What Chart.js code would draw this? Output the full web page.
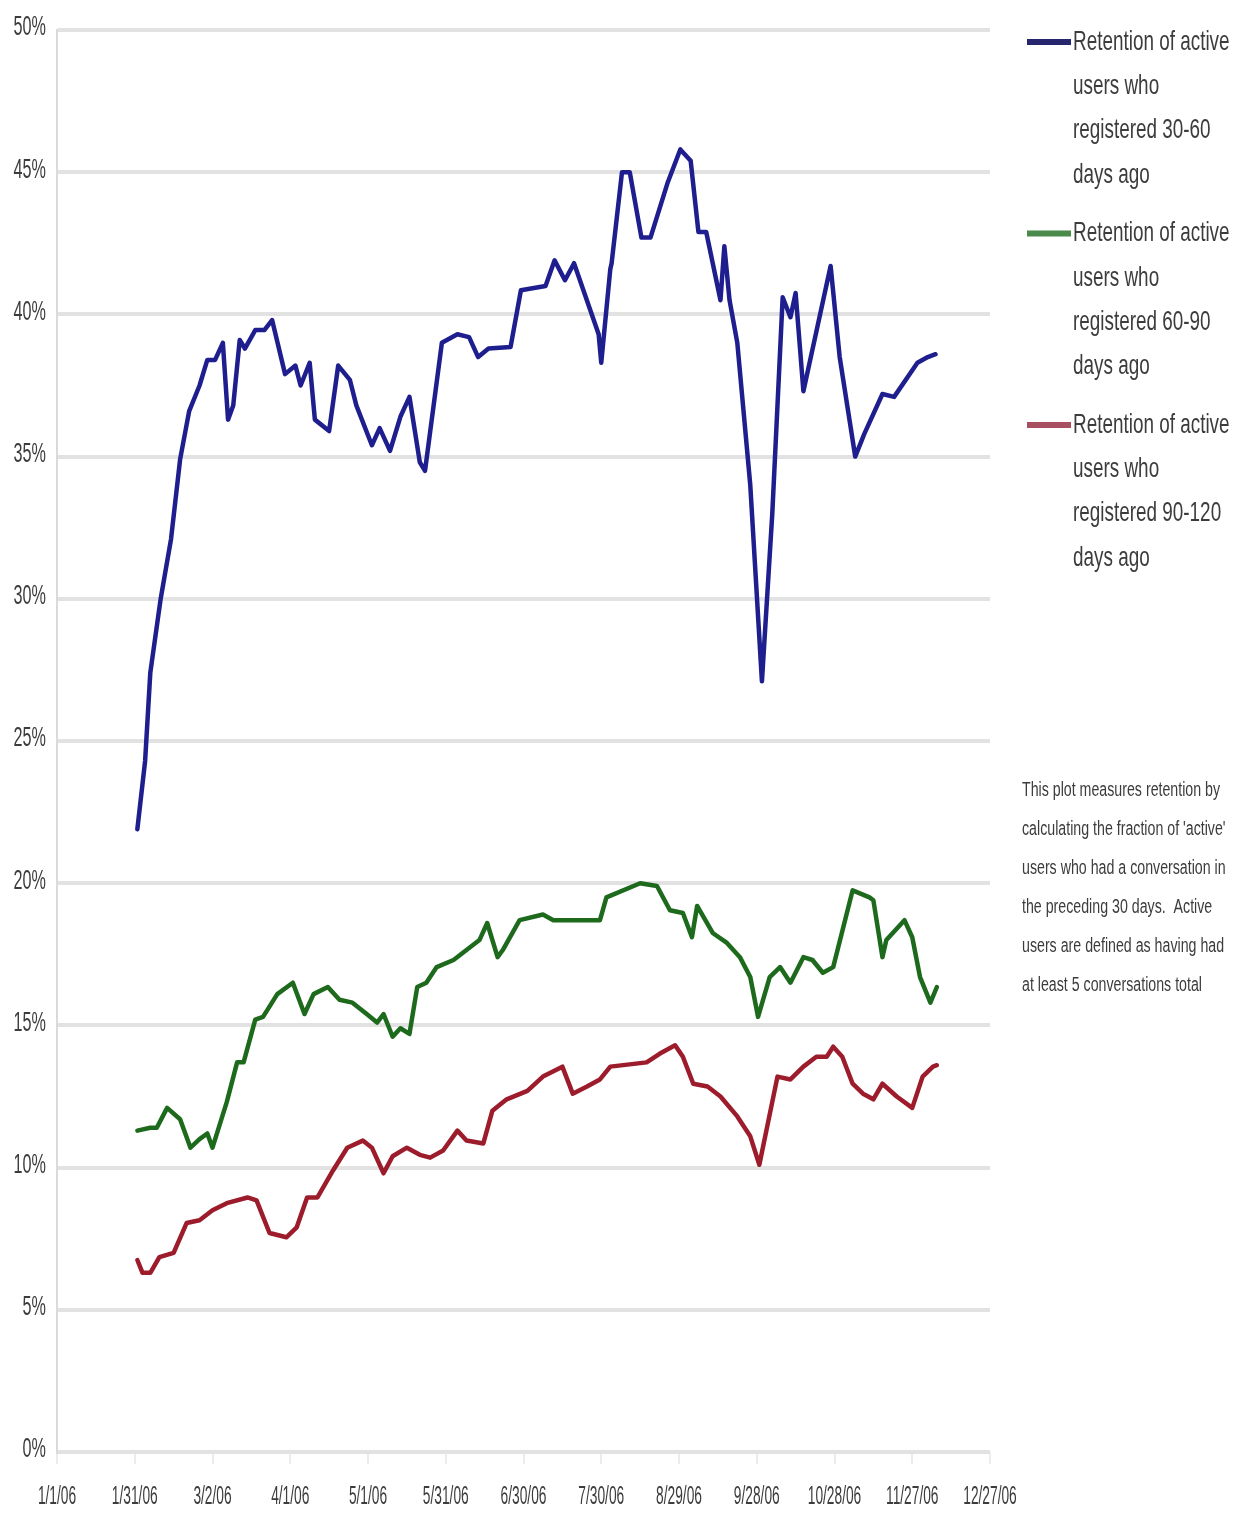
<!DOCTYPE html>
<html>
<head>
<meta charset="utf-8">
<script src="https://cdn.jsdelivr.net/npm/chart.js@4.4.1/dist/chart.umd.min.js"></script>
<style>
  html, body { margin: 0; padding: 0; background: #fff; }
  #wrap { position: relative; width: 1242px; height: 1513px; }
</style>
</head>
<body>
<div id="wrap"><canvas id="retentionChart"></canvas></div>
<script>
// x values are days since 1/1/06, ticks every 30 days
const tickLabels = ['1/1/06', '1/31/06', '3/2/06', '4/1/06', '5/1/06', '5/31/06', '6/30/06',
  '7/30/06', '8/29/06', '9/28/06', '10/28/06', '11/27/06', '12/27/06'];
const yTicks = [0, 5, 10, 15, 20, 25, 30, 35, 40, 45, 50];

const blueDays = [31, 34, 36, 40, 44, 47.5, 51, 55, 58, 61, 64, 66, 68, 70.5, 72.5, 76.5, 80, 83, 88, 92,
  94, 97.5, 99.5, 105, 108.5, 113, 115.5, 121.5, 124.5, 128.5, 132.5, 136, 140, 142, 148.5, 154.5, 159,
  162.5, 166.5, 175, 179, 188.5, 192, 196, 199.5, 209, 210, 213.5, 214, 218, 221, 225.5, 229, 235.5,
  240.5, 244.5, 247.5, 250.5, 256, 257.5, 259.5, 262.5, 267.5, 272, 276, 280, 283, 285, 288, 298.5,
  302, 308, 311.5, 318.5, 323, 332, 336, 339];
const blueValues = [21.9, 24.3, 27.4, 30.0, 32.1, 34.9, 36.6, 37.5, 38.4, 38.4, 39.0, 36.3, 36.8, 39.1,
  38.8, 39.45, 39.45, 39.8, 37.9, 38.2, 37.5, 38.3, 36.3, 35.9, 38.2, 37.7, 36.8, 35.4, 36.0, 35.2, 36.4,
  37.1, 34.8, 34.5, 39.0, 39.3, 39.2, 38.5, 38.8, 38.85, 40.85, 41.0, 41.9, 41.2, 41.8, 39.3, 38.3, 41.6,
  41.8, 45.0, 45.0, 42.7, 42.7, 44.6, 45.8, 45.4, 42.9, 42.9, 40.5, 42.4, 40.5, 39.0, 34.0, 27.1, 33.0,
  40.6, 39.9, 40.75, 37.3, 41.7, 38.5, 35.0, 35.8, 37.2, 37.1, 38.3, 38.5, 38.6];

const greenDays = [31, 36, 38.5, 42.5, 47.5, 51.5, 55, 58, 60, 65.5, 69.5, 72, 76.5, 79.5, 85, 91, 95.5,
  99, 104.5, 109, 114, 119.5, 123.5, 126, 129.5, 132.5, 136, 139, 142.5, 146.5, 153, 158, 163, 166, 170,
  172, 178.5, 187.5, 191.5, 209.5, 212, 225, 231.5, 236.5, 241.5, 245, 247, 253, 258.5, 263.5, 267.5,
  270.5, 275, 279, 283, 288, 291.5, 295.5, 299.5, 307, 313.5, 315, 318.5, 320, 327, 330, 333, 337, 339.5];
const greenValues = [11.3, 11.4, 11.4, 12.1, 11.7, 10.7, 11.0, 11.2, 10.7, 12.3, 13.7, 13.7, 15.2, 15.3,
  16.1, 16.5, 15.4, 16.1, 16.35, 15.9, 15.8, 15.4, 15.1, 15.4, 14.6, 14.9, 14.7, 16.35, 16.5, 17.05, 17.3,
  17.65, 18.0, 18.6, 17.4, 17.65, 18.7, 18.9, 18.7, 18.7, 19.5, 20.0, 19.9, 19.05, 18.95, 18.1, 19.2,
  18.25, 17.9, 17.4, 16.7, 15.3, 16.7, 17.05, 16.5, 17.4, 17.3, 16.85, 17.05, 19.75, 19.5, 19.4, 17.4,
  18.0, 18.7, 18.1, 16.7, 15.8, 16.35];

const redDays = [31, 33, 36, 39.5, 45, 50, 55, 60, 65.5, 73.5, 77, 82, 88.5, 92.5, 96.5, 100.5, 106.5,
  112, 118, 121.5, 126, 129.5, 135, 140, 144, 149, 154.5, 158, 164.5, 168, 173.5, 181.5, 187.5, 195, 199,
  204.5, 209.5, 213.5, 227.5, 232.5, 238.5, 241.5, 245.5, 251, 256, 262.5, 267.5, 271, 278, 283, 288,
  293, 297, 299.5, 303, 307, 311, 315, 318.5, 324, 330, 334, 338, 339.5];
const redValues = [6.75, 6.3, 6.3, 6.85, 7.0, 8.05, 8.15, 8.5, 8.75, 8.95, 8.85, 7.7, 7.55, 7.9, 8.95,
  8.95, 9.9, 10.7, 10.95, 10.7, 9.8, 10.4, 10.7, 10.45, 10.35, 10.6, 11.3, 10.95, 10.85, 12.0, 12.4, 12.7,
  13.2, 13.55, 12.6, 12.85, 13.1, 13.55, 13.7, 14.0, 14.3, 13.9, 12.95, 12.85, 12.5, 11.8, 11.1, 10.1,
  13.2, 13.1, 13.55, 13.9, 13.9, 14.25, 13.9, 12.95, 12.6, 12.4, 12.95, 12.5, 12.1, 13.2, 13.55, 13.6];

const seriesLabels = [
  ['Retention of active', 'users who', 'registered 30-60', 'days ago'],
  ['Retention of active', 'users who', 'registered 60-90', 'days ago'],
  ['Retention of active', 'users who', 'registered 90-120', 'days ago']
];
const noteLines = [
  'This plot measures retention by',
  "calculating the fraction of 'active'",
  'users who had a conversation in',
  'the preceding 30 days.  Active',
  'users are defined as having had',
  'at least 5 conversations total'
];

const toPoints = (days, values) => days.map((d, i) => ({ x: d, y: values[i] }));

const textColor = '#3c3c3c';
const baseFont = '"Liberation Sans", Arial, sans-serif';

function drawSquished(ctx, text, x, y, size, sx, align) {
  ctx.save();
  ctx.font = size + 'px ' + baseFont;
  ctx.translate(x, y);
  ctx.scale(sx, 1);
  ctx.textAlign = align;
  ctx.textBaseline = 'middle';
  ctx.fillStyle = textColor;
  ctx.fillText(text, 0, 0);
  ctx.restore();
}

// condensed tick labels, legend and note (the source uses a very narrow face)
const textPlugin = {
  id: 'textPlugin',
  afterDraw(chart) {
    const ctx = chart.ctx;
    const xs = chart.scales.x;
    const ys = chart.scales.y;

    ys.ticks.forEach(t => {
      drawSquished(ctx, t.label, 46, ys.getPixelForValue(t.value) - 2, 27, 0.6, 'right');
    });
    xs.ticks.forEach(t => {
      drawSquished(ctx, t.label, xs.getPixelForValue(t.value), 1497, 25, 0.55, 'center');
    });

    // legend
    chart.data.datasets.forEach((ds, i) => {
      const top = 42 + i * 191.5;
      ctx.save();
      ctx.strokeStyle = ds.legendColor;
      ctx.lineWidth = 6;
      ctx.beginPath();
      ctx.moveTo(1027, top);
      ctx.lineTo(1071, top);
      ctx.stroke();
      ctx.restore();
      ds.legendLines.forEach((line, j) => {
        drawSquished(ctx, line, 1073, top + j * 44.3, 28, 0.675, 'left');
      });
    });

    noteLines.forEach((line, j) => {
      drawSquished(ctx, line, 1022, 790 + j * 39, 20, 0.71, 'left');
    });
  }
};

new Chart(document.getElementById('retentionChart'), {
  type: 'line',
  data: {
    datasets: [
      {
        label: seriesLabels[0].join(' '),
        legendLines: seriesLabels[0],
        data: toPoints(blueDays, blueValues),
        borderColor: '#1e1e8e',
        legendColor: '#26266e',
        borderWidth: 4.5
      },
      {
        label: seriesLabels[1].join(' '),
        legendLines: seriesLabels[1],
        data: toPoints(greenDays, greenValues),
        borderColor: '#1d6a1d',
        legendColor: '#4a8a4a',
        borderWidth: 4.5
      },
      {
        label: seriesLabels[2].join(' '),
        legendLines: seriesLabels[2],
        data: toPoints(redDays, redValues),
        borderColor: '#9c1c2c',
        legendColor: '#a85060',
        borderWidth: 4.5
      }
    ]
  },
  options: {
    responsive: true,
    maintainAspectRatio: false,
    animation: false,
    elements: {
      point: { radius: 0 },
      line: { tension: 0, borderJoinStyle: 'round', borderCapStyle: 'round' }
    },
    layout: { padding: { left: 0, right: 252, top: 30, bottom: 0 } },
    scales: {
      x: {
        type: 'linear',
        min: 0,
        max: 360,
        afterBuildTicks: scale => { scale.ticks = tickLabels.map((_, i) => ({ value: i * 30 })); },
        afterFit: scale => { scale.height = 61; },
        ticks: {
          display: false,
          callback: v => tickLabels[Math.round(v / 30)]
        },
        grid: { drawOnChartArea: false, drawTicks: true, tickLength: 12, color: '#ececec', lineWidth: 2 },
        border: { display: false }
      },
      y: {
        min: 0,
        max: 50,
        afterBuildTicks: scale => { scale.ticks = yTicks.map(v => ({ value: v })); },
        afterFit: scale => { scale.width = 57; },
        ticks: {
          display: false,
          callback: v => v + '%'
        },
        grid: { color: '#e2e2e2', lineWidth: 4, drawTicks: false },
        border: { display: true, color: '#dadada', width: 2 }
      }
    },
    plugins: {
      legend: { display: false },
      tooltip: { enabled: false }
    }
  },
  plugins: [textPlugin]
});
</script>
</body>
</html>
